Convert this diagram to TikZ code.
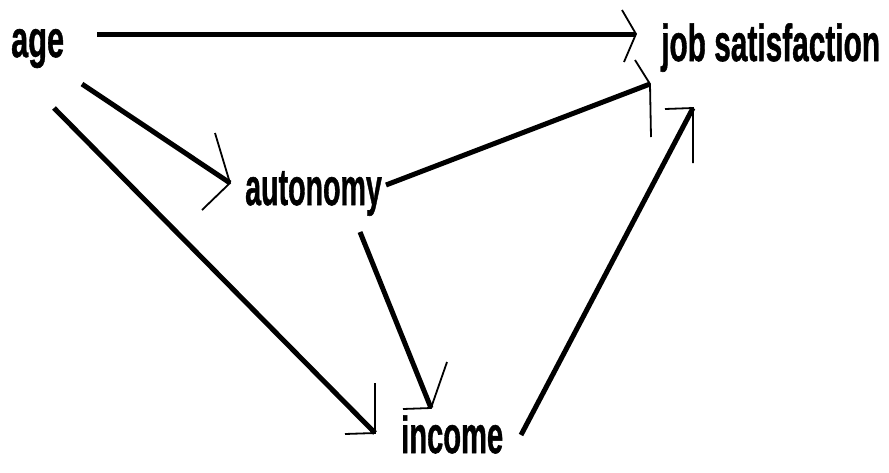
\documentclass[tikz,border=0pt]{standalone}
\usepackage{fontspec}
\setmainfont{Liberation Sans}
\newfontfamily\lblfont[FakeBold=1.2]{Liberation Sans Bold}
\begin{document}
\begin{tikzpicture}[x=1pt,y=-1pt,
  lbl/.style={inner sep=0pt,anchor=base west,font=\fontsize{52}{52}\lblfont},
  shaft/.style={line width=5pt,black},
  barb/.style={line width=1.8pt,black,line join=miter}]
\useasboundingbox[fill=white] (0,0) rectangle (889,472);
% text nodes
\node[lbl] (age) at (11,57) {\scalebox{0.59}[1]{age}};
\node[lbl] (job) at (661,61) {\scalebox{0.574}[1]{job satisfaction}};
\node[lbl] (aut) at (245,205) {\scalebox{0.55}[1]{autonomy}};
\node[lbl] (inc) at (401,453) {\scalebox{0.56}[1]{income}};
% connector end points
\coordinate (s1) at (97,34);   \coordinate (t1) at (636,34);
\coordinate (b1a) at (622,10); \coordinate (b1b) at (624,62);
\coordinate (s2) at (82,84);   \coordinate (t2) at (230,183);
\coordinate (b2a) at (215,133);\coordinate (b2b) at (202,210);
\coordinate (s3) at (54,108);  \coordinate (t3) at (375,433);
\coordinate (b3a) at (375,383);\coordinate (b3b) at (345,434);
\coordinate (s4) at (386,185); \coordinate (t4) at (650,84);
\coordinate (b4a) at (635,60); \coordinate (b4b) at (651,137);
\coordinate (s5) at (521,435); \coordinate (t5) at (693,108);
\coordinate (b5a) at (665,109);\coordinate (b5b) at (693,163);
\coordinate (s6) at (360,232); \coordinate (t6) at (431,408);
\coordinate (b6a) at (447,362);\coordinate (b6b) at (403,409);
% shafts
\draw[shaft] (s1) -- (t1);
\draw[shaft] (s2) -- (t2);
\draw[shaft] (s3) -- (t3);
\draw[shaft] (s4) -- (t4);
\draw[shaft] (s5) -- (t5);
\draw[shaft] (s6) -- (t6);
% arrowheads
\draw[barb] (b1a) -- (t1) -- (b1b);
\draw[barb] (b2a) -- (t2) -- (b2b);
\draw[barb] (b3a) -- (t3) -- (b3b);
\draw[barb] (b4a) -- (t4) -- (b4b);
\draw[barb] (b5a) -- (t5) -- (b5b);
\draw[barb] (b6a) -- (t6) -- (b6b);
\end{tikzpicture}
\end{document}
